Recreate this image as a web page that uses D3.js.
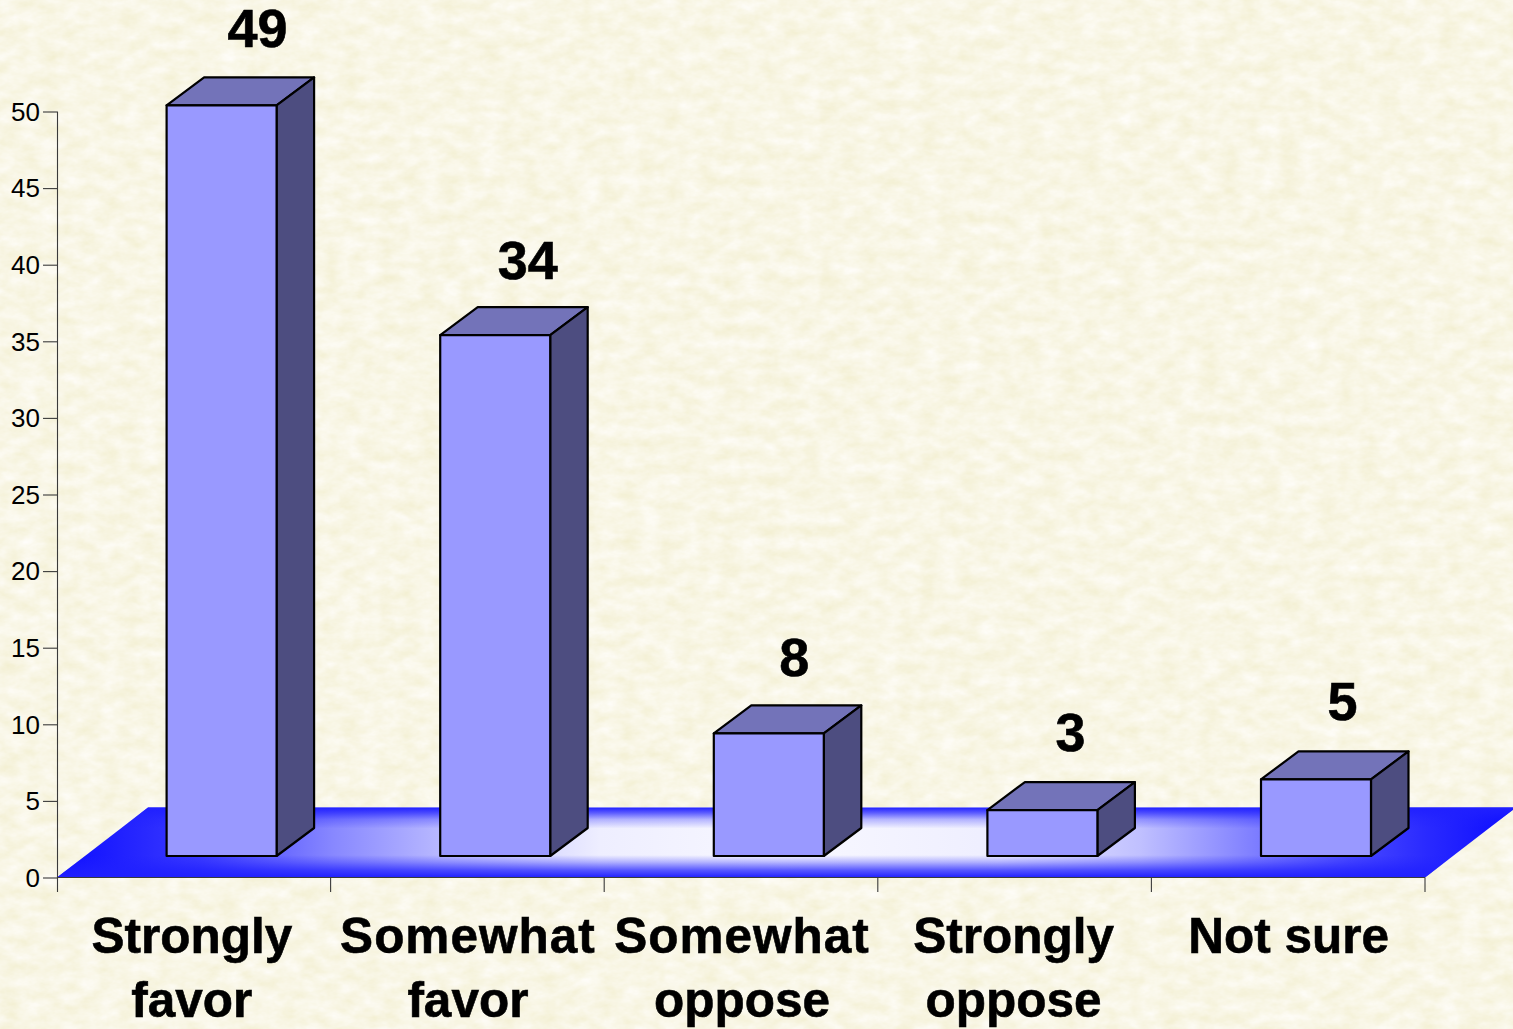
<!DOCTYPE html>
<html><head><meta charset="utf-8">
<script src="https://cdn.jsdelivr.net/npm/d3@7"></script>
<style>html,body{margin:0;padding:0;background:#f9f8e8;overflow:hidden}svg{display:block}text{font-family:"Liberation Sans",Arial,sans-serif}</style>
</head><body><div id="chart"></div>
<script>
const categories = ["Strongly favor","Somewhat favor","Somewhat oppose","Strongly oppose","Not sure"];
const values = [49,34,8,3,5];
const yTicks = [0,5,10,15,20,25,30,35,40,45,50];
const labelLines = [["Strongly","favor"],["Somewhat","favor"],["Somewhat","oppose"],["Strongly","oppose"],["Not sure"]];

const W=1513,H=1029;
const x0=57,x1=1425,yBase=877.5,yTop=111.5;
const floorDx=91,floorDy=70, frontDx=27.5,frontDy=21.5, sideDx=37.5,sideDy=28;
const svg=d3.select("#chart").append("svg").attr("width",W).attr("height",H);
const defs=svg.append("defs");

// paper texture
const f=defs.append("filter").attr("id","paper").attr("x",0).attr("y",0).attr("width","100%").attr("height","100%").attr("color-interpolation-filters","sRGB");
f.append("feTurbulence").attr("type","fractalNoise").attr("baseFrequency","0.05 0.08").attr("numOctaves",4).attr("seed",11).attr("result","n");
f.append("feColorMatrix").attr("in","n").attr("type","matrix")
 .attr("values","0.05 0 0 0 0.95  0.06 0 0 0 0.935  0.17 0 0 0 0.815  0 0 0 0 1");
svg.append("rect").attr("width",W).attr("height",H).attr("fill","#f9f8e8").attr("filter","url(#paper)");

const x=d3.scaleBand().domain(categories).range([x0,x1]);
const barW=x.bandwidth()*0.402;
const y=d3.scaleLinear().domain([0,50]).range([yBase,yTop]);

// floor
const gH=defs.append("linearGradient").attr("id","floorH").attr("gradientUnits","userSpaceOnUse").attr("x1",x0).attr("x2",1513).attr("y1",0).attr("y2",0);
[[0,"#0c0cff"],[0.03,"#1a1aff"],[0.1,"#3c3cff"],[0.13,"#5555ff"],[0.17,"#7777ff"],[0.19,"#8888ff"],[0.263,"#b8b8ff"],[0.373,"#eeeeff"],[0.5,"#f8f8ff"],[0.648,"#eeeeff"],[0.744,"#c0c0ff"],[0.82,"#8080ff"],[0.888,"#4a4aff"],[0.94,"#2a2aff"],[1,"#0c0cff"]]
 .forEach(s=>gH.append("stop").attr("offset",s[0]).attr("stop-color",s[1]));
const gV=defs.append("linearGradient").attr("id","floorV").attr("x1",0).attr("x2",0).attr("y1",0).attr("y2",1);
[[0,1],[0.08,0.7],[0.17,0.3],[0.3,0],[0.68,0],[0.78,0.3],[0.9,0.75],[1,1]]
 .forEach(s=>gV.append("stop").attr("offset",s[0]).attr("stop-color","#2020ff").attr("stop-opacity",s[1]));
const floorPts=[[x0,yBase],[x1,yBase],[x1+floorDx,yBase-floorDy],[x0+floorDx,yBase-floorDy]];
const floorLine=d3.line();
svg.append("path").attr("d",floorLine(floorPts)+"Z").attr("fill","url(#floorH)");
svg.append("path").attr("d",floorLine(floorPts)+"Z").attr("fill","url(#floorV)");

// axes
const axisColor="#3a3a3a";
const yAxis=svg.append("g").attr("transform",`translate(${x0},0)`)
 .call(d3.axisLeft(y).tickValues(yTicks).tickSize(14).tickPadding(3).tickFormat(d3.format("d")));
yAxis.select(".domain").remove();
yAxis.selectAll("line").attr("stroke",axisColor).attr("stroke-width",1.1);
yAxis.selectAll("text").attr("font-size",26).attr("fill","#000").attr("font-family",'"Liberation Sans",Arial,sans-serif').attr("dy","0.34em");
svg.append("line").attr("x1",x0+.5).attr("x2",x0+.5).attr("y1",y(50)).attr("y2",892).attr("stroke",axisColor).attr("stroke-width",1.1);
svg.append("line").attr("x1",x0).attr("x2",x1).attr("y1",yBase).attr("y2",yBase).attr("stroke",axisColor).attr("stroke-width",1.1);
const xTickVals=d3.range(1,categories.length+1).map(i=>x0+x.step()*i);
svg.selectAll(".xt").data(xTickVals).join("line").attr("class","xt").attr("x1",d=>d).attr("x2",d=>d).attr("y1",yBase).attr("y2",892).attr("stroke",axisColor).attr("stroke-width",1.1);

// bars
const h0=y(0)-frontDy;
const bars=svg.selectAll(".bar").data(categories.map((c,i)=>({c,v:values[i]}))).join("g").attr("class","bar");
const pos=d=>{const l=x(d.c)+x.bandwidth()/2+frontDx-barW/2+0.3;return{l,r:l+barW,t:h0-(y(0)-y(d.v)),b:h0};};
const st={stroke:"#000","stroke-width":2.2,"stroke-linejoin":"round"};
function poly(sel,fn,fill){const p=sel.append("path").attr("d",d=>floorLine(fn(pos(d)))+"Z").attr("fill",fill);Object.entries(st).forEach(([k,v])=>p.attr(k,v));}
poly(bars,p=>[[p.l,p.t],[p.r,p.t],[p.r+sideDx,p.t-sideDy],[p.l+sideDx,p.t-sideDy]],"#7373b9");
poly(bars,p=>[[p.r,p.t],[p.r,p.b],[p.r+sideDx,p.b-sideDy],[p.r+sideDx,p.t-sideDy]],"#4d4d80");
poly(bars,p=>[[p.l,p.t],[p.r,p.t],[p.r,p.b],[p.l,p.b]],"#9999ff");

// value labels: sit above the top face
const nudgeX=[36,32.5,25.5,28,26.5], nudgeY=[30,28,29,31,31];
svg.selectAll(".val").data(categories.map((c,i)=>({c,v:values[i],i}))).join("text").attr("class","val")
 .attr("x",d=>{const p=pos(d);return (p.l+p.r)/2+nudgeX[d.i];})
 .attr("y",d=>pos(d).t-sideDy-nudgeY[d.i])
 .attr("text-anchor","middle").attr("font-size",54).attr("font-weight","bold").attr("fill","#000").attr("stroke","#000").attr("stroke-width",0.6).text(d=>d.v);

// category labels
const lab=svg.selectAll(".cat").data(categories).join("text").attr("class","cat")
 .attr("text-anchor","middle").attr("font-size",49.5).attr("font-weight","bold").attr("fill","#000").attr("stroke","#000").attr("stroke-width",0.6);
lab.each(function(c,i){
  d3.select(this).selectAll("tspan").data(labelLines[i]).join("tspan")
   .attr("x",x(c)+x.bandwidth()/2+[-2,0.5,1,-1,0.5][i]).attr("y",(d,j)=>953+j*63.5)
   .attr("letter-spacing",d=>d==="Somewhat"?1:0).text(d=>d);
});
</script></body></html>
